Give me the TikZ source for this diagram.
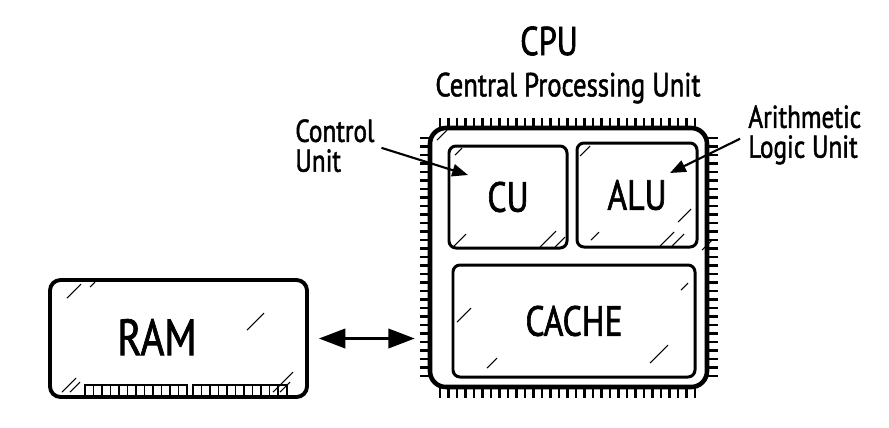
\documentclass[tikz,border=0pt]{standalone}
\usepackage{fontspec}
\setmainfont{PT Sans}[FakeStretch=0.8, FakeBold=1.5]
\usetikzlibrary{arrows.meta,positioning}

\tikzset{
  chip/.style={draw, line width=2.6pt, rounded corners=9pt, minimum width=277*0.02cm, minimum height=259*0.02cm},
  unitbox/.style={draw, line width=1.7pt, rounded corners=4pt, inner sep=0pt},
  pin/.style={line width=1.3pt},
  glint/.style={line width=0.6pt},
  note/.style={align=left, inner sep=0pt, font=\fontsize{18}{17}\selectfont},
  pointer/.style={-{Triangle[length=9pt,width=7pt]}, line width=1.2pt},
  link/.style={{Triangle[length=15pt,width=11pt]}-{Triangle[length=15pt,width=11pt]}, line width=1.6pt}
}

\begin{document}
\begin{tikzpicture}[x=0.02cm, y=-0.02cm]
\useasboundingbox (0,0) rectangle (889,427);

% titles
\node[font=\fontsize{23}{25}\selectfont] (cputitle) at (549,41) {CPU};
\node[font=\fontsize{19}{21}\selectfont] (cpuname) at (568,88) {Central Processing Unit};

% pins round the chip
\foreach \x in {440,448.5,...,701}
  {\draw[pin] (\x,118) -- (\x,128);
   \draw[pin] (\x,387) -- (\x,398);}
\foreach \y in {138,146.5,...,380}
  {\draw[pin] (420,\y) -- (430,\y);
   \draw[pin] (707,\y) -- (718,\y);}

% chip and its parts
\node[chip] (cpu) at (568.5,257.5) {};
\node[unitbox, minimum width=118*0.02cm, minimum height=102*0.02cm, font=\fontsize{24}{26}\selectfont] (cu) at (508,197) {CU};
\node[unitbox, minimum width=120*0.02cm, minimum height=104*0.02cm, font=\fontsize{24}{26}\selectfont] (alu) at (637,195) {ALU};
\node[unitbox, minimum width=242*0.02cm, minimum height=112*0.02cm, font=\fontsize{24}{26}\selectfont] (cache) at (574,321) {CACHE};

% RAM stick
\node[unitbox, line width=2.2pt, rounded corners=6pt, minimum width=257*0.02cm, minimum height=117*0.02cm] (ram) at (178.5,338.5) {};
\node[font=\fontsize{29}{31}\selectfont] (ramtext) at (157,337) {RAM};
\draw[line width=1.2pt] (85,385) rectangle (187,396);
\draw[line width=1.2pt] (193,385) rectangle (287,396);
\foreach \x in {93.5,102,...,183} \draw[line width=1pt] (\x,385) -- (\x,396);
\foreach \x in {201.5,210,...,283} \draw[line width=1pt] (\x,385) -- (\x,396);

% labels
\node[note, anchor=north west] (ctrlnote) at (295,119) {Control\\Unit};
\node[note, anchor=north west] (alunote) at (748,105) {Arithmetic\\Logic Unit};
\coordinate (cutip) at (468,175);
\coordinate (alutip) at (670,173);
\draw[pointer, shorten <=4pt] (ctrlnote.east) -- (cutip);
\draw[pointer, shorten <=5pt] (alunote.west) -- (alutip);

% bus
\draw[link, shorten <=5.7pt, shorten >=7.4pt] (ram.east) -- (ram.east -| cpu.west);

% glass marks
\foreach \gx/\gy/\gl in {437/140/10, 455/155/7, 454/246/12, 540/247/16, 555/247/10,
  580/156/10, 678/222/13, 591/240/8, 660/246/14, 672/246/12, 457/322/14, 681/290/7,
  650/363/18, 487/368/10, 702/250/10,
  67/298/14, 90/287/5, 247/330/17, 62/392/14, 70/392/10, 273/392/20, 280/392/10}
  \draw[glint] (\gx,\gy) -- ++(\gl,-\gl);
\end{tikzpicture}
\end{document}
